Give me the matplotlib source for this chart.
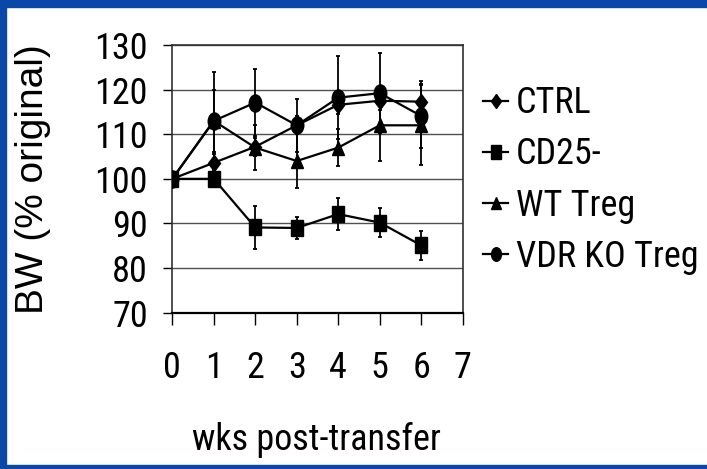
import numpy as np
import matplotlib
matplotlib.use("Agg")
import matplotlib.pyplot as plt
from matplotlib import font_manager
from matplotlib.lines import Line2D
from matplotlib.markers import MarkerStyle
from matplotlib.patches import Rectangle
from matplotlib.transforms import Affine2D

# want an Arial Narrow look; take the first narrow face that is installed
names = {f.name for f in font_manager.fontManager.ttflist}
prefs = ['Arial Narrow', 'Liberation Sans Narrow', 'Nimbus Sans Narrow', 'Roboto Condensed',
         'Archivo Narrow', 'PT Sans Narrow']
narrow = [n for n in prefs if n in names]
narrow += sorted(n for n in names if "Narrow" in n or "Condensed" in n)
if narrow:
    plt.rcParams['font.family'] = [narrow[0], 'Liberation Sans', 'DejaVu Sans']
    fs, tfs = 26, 26
else:
    plt.rcParams['font.family'] = ['Liberation Sans', 'DejaVu Sans']
    fs, tfs = 21.5, 22

weeks = [0, 1, 2, 3, 4, 5, 6]
labels = ["CTRL", "CD25-", "WT Treg", "VDR KO Treg"]

ctrl = [100, 103.6, 107.2, 112, 116.6, 117.5, 117.3]
ctrl_err = [0, 2, 2, 2, 2, 2, 4.7]
cd25 = [100, 100, 89.1, 89, 92.1, 90.2, 85.1]
cd25_err = [0, 0, 4.9, 2.4, 3.6, 3.3, 3.2]
wt = [100, 113, 107, 104, 107, 112, 112]
wt_err = [0, 7, 5, 6, 4.2, 8, 9]
vdr = [100, 113, 117.1, 112, 118.2, 119.2, 114.1]
vdr_err = [0, 11, 7.6, 6, 9.3, 9, 7.2]

yticks = [70, 80, 90, 100, 110, 120, 130]
xticks = [0, 1, 2, 3, 4, 5, 6, 7]

# picture is stretched a bit vertically, markers too
def mk(m, sx=1.0, sy=1.35):
    return MarkerStyle(m, transform=Affine2D().scale(sx, sy))

W, H = 707, 469
fig = plt.figure(figsize=(W / 100, H / 100), dpi=100)
fig.patch.set_facecolor("white")

# blue slide frame
blue = "#0a48a8"
fig.add_artist(Rectangle((0, 1 - 7 / H), 1, 7 / H, transform=fig.transFigure, color=blue, zorder=0))
fig.add_artist(Rectangle((0, 0), 6 / W, 1, transform=fig.transFigure, color=blue, zorder=0))
fig.add_artist(Rectangle((0, 0), 1, 4 / H, transform=fig.transFigure, color=blue, zorder=0))

ax = fig.add_axes([172.3 / W, 1 - 312.7 / H, 290.4 / W, 267.7 / H])

series = [
    (ctrl, ctrl_err, mk('D', 0.75, 1.0), 8.5),
    (cd25, cd25_err, mk('s'), 9),
    (wt, wt_err, mk('^', 0.9, 1.1), 9.5),
    (vdr, vdr_err, mk('o', 0.95, 1.3), 9.5),
]
for vals, err, m, ms in series:
    ax.errorbar(weeks, vals, yerr=err, color="black", lw=1.6, marker=m, ms=ms,
                elinewidth=1.3, capsize=1.5, capthick=1.3, zorder=3)

ax.set_xlim(0, 7)
ax.set_ylim(70, 130)
ax.set_xticks(xticks)
ax.set_yticks(yticks)
ax.yaxis.grid(True, color="#505050", lw=1)
ax.set_axisbelow(True)
for s in ax.spines.values():
    s.set_color("#303030")
    s.set_linewidth(1.2)
ax.spines['bottom'].set_color("black")
ax.spines['bottom'].set_linewidth(1.6)
ax.tick_params(axis='x', direction='out', length=8.5, width=1, pad=18, labelsize=tfs)
ax.tick_params(axis='y', direction='out', length=6.5, width=1, pad=11, labelsize=tfs)

fig.text(33 / W, 1 - 179 / H, "BW (% original)", rotation=90, ha="center", va="center",
         fontsize=28, family=['Liberation Sans', 'DejaVu Sans'])
fig.text(316 / W, 1 - 440 / H, "wks post-transfer", ha="center", va="center", fontsize=fs)

handles = [
    Line2D([], [], color="black", lw=1.6, marker=mk('D', 0.75, 1.0), ms=7),
    Line2D([], [], color="black", lw=1.6, marker=mk('s'), ms=7),
    Line2D([], [], color="black", lw=1.6, marker=mk('^', 0.9, 1.1), ms=7.5),
    Line2D([], [], color="black", lw=1.6, marker=mk('o', 0.95, 1.3), ms=7.5),
]
fig.legend(handles, labels, loc="center left", bbox_to_anchor=(483 / W, 1 - 180 / H),
           frameon=False, fontsize=fs, handlelength=0.7, handletextpad=0.2,
           labelspacing=0.42, borderpad=0, borderaxespad=0)

fig.savefig("out.png", dpi=100)
